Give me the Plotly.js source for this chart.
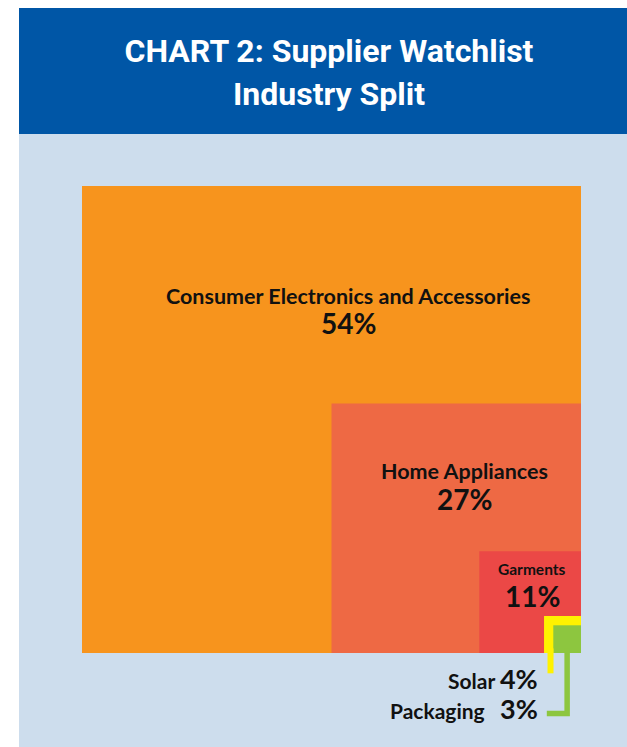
<!DOCTYPE html>
<html>
<head>
<meta charset="utf-8">
<script src="https://cdn.plot.ly/plotly-3.0.1.min.js"></script>
<style>html,body{margin:0;padding:0;background:#ffffff;}#chart{width:627px;height:747px;}</style>
</head>
<body>
<div id="chart"></div>
<script>
// ---- data ----
const categories = ['Consumer Electronics and Accessories', 'Home Appliances', 'Garments', 'Solar', 'Packaging'];
const shares = [54, 27, 11, 4, 3];
const shareLabels = ['54%', '27%', '11%', '4%', '3%'];

// ---- styles ----
const fillColors = ['#F7941D', '#EE6944', '#EB4846', '#FFF200', '#8DC63F'];
const headerBlue = '#0056A6';
const panelBlue = '#CDDDED';
const labelFont = 'Lato, "Noto Sans", sans-serif';

// ---- layout geometry (pixels) ----
const W = 627, H = 747;
const plotL = 82, plotR = 581, plotT = 186, plotB = 747; // plot area
const baseY = 653; // pixel row of value 0
const total = shares[0];
const k = (plotR - plotL) / total; // px per unit
const yMin = -(plotB - baseY) / k;
const yMax = (baseY - plotT) / k;
const right = total; // squares anchored to bottom-right corner

const traces = [];
// nested squares, side proportional to share
shares.forEach((s, i) => {
  const x0 = right - s, x1 = right;
  const top = i === 0 ? yMax : s;
  traces.push({
    type: 'scatter', mode: 'lines',
    x: [x0, x1, x1, x0, x0], y: [0, 0, top, top, 0],
    fill: 'toself', fillcolor: fillColors[i],
    line: {width: 0, color: fillColors[i]},
    hoverinfo: 'skip', showlegend: false, name: categories[i]
  });
});
// leader lines for the two smallest squares
const sSolar = shares[3], sPack = shares[4];
traces.push({
  type: 'scatter', mode: 'lines',
  x: [right - sPack - 0.3, right - sPack - 0.3], y: [0.5, -2.2],
  line: {width: 6, color: fillColors[3]}, hoverinfo: 'skip', showlegend: false
});
traces.push({
  type: 'scatter', mode: 'lines',
  x: [right - sPack / 2, right - sPack / 2, right - sSolar + 0.3], y: [0.5, -6.55, -6.55],
  line: {width: 5.5, color: fillColors[4]}, hoverinfo: 'skip', showlegend: false
});

// label positions (data units), offsets from square centres
const labelDX = [1.8, 0.85, 0.25];
const labelDY = [38.6, 19.7, 9.1];
const valueDY = [35.7, 16.7, 6.2];
const labelSize = [21.5, 21.5, 15.5];
const valueSize = [28, 28, 28];

const annotations = [];
for (let i = 0; i < 3; i++) {
  const cx = right - shares[i] / 2 + labelDX[i];
  annotations.push({xref: 'x', yref: 'y', x: cx, y: labelDY[i], text: '<b>' + categories[i] + '</b>',
    showarrow: false, xanchor: 'center', yanchor: 'middle', font: {family: labelFont, size: labelSize[i], color: '#111'}});
  annotations.push({xref: 'x', yref: 'y', x: cx, y: valueDY[i], text: '<b>' + shareLabels[i] + '</b>',
    showarrow: false, xanchor: 'center', yanchor: 'middle', font: {family: labelFont, size: valueSize[i], color: '#111'}});
}
const sideX = (540 - plotL) / k;
annotations.push({xref: 'x', yref: 'y', x: sideX, y: -2.75, xanchor: 'right', yanchor: 'middle', showarrow: false,
  text: '<b>' + categories[3] + ' <span style="font-size:27px">' + shareLabels[3] + '</span></b>',
  font: {family: labelFont, size: 21, color: '#111'}});
annotations.push({xref: 'x', yref: 'y', x: sideX, y: -6.0, xanchor: 'right', yanchor: 'middle', showarrow: false,
  text: '<b>' + categories[4] + '&nbsp;&nbsp; <span style="font-size:27px">' + shareLabels[4] + '</span></b>',
  font: {family: labelFont, size: 21, color: '#111'}});

// title second line
const px2paperX = px => (px - plotL) / (plotR - plotL);
const px2paperY = py => (plotB - py) / (plotB - plotT);
annotations.push({xref: 'paper', yref: 'paper', x: px2paperX(329), y: px2paperY(94), xanchor: 'center', yanchor: 'middle',
  showarrow: false, text: '<b>Industry Split</b>', font: {family: 'Roboto', size: 32, color: '#ffffff'}});

const shapes = [
  {type: 'rect', xref: 'paper', yref: 'paper', layer: 'below', x0: px2paperX(19), x1: px2paperX(W), y0: px2paperY(H), y1: px2paperY(134),
    fillcolor: panelBlue, line: {width: 0}},
  {type: 'rect', xref: 'paper', yref: 'paper', layer: 'below', x0: px2paperX(19), x1: px2paperX(W), y0: px2paperY(134), y1: px2paperY(8),
    fillcolor: headerBlue, line: {width: 0}}
];

const layout = {
  width: W, height: H,
  paper_bgcolor: '#ffffff', plot_bgcolor: 'rgba(0,0,0,0)',
  margin: {l: plotL, r: W - plotR, t: plotT, b: H - plotB, pad: 0, autoexpand: false},
  title: {text: '<b>CHART 2: Supplier Watchlist</b>', xref: 'container', yref: 'container',
    x: 329 / W, y: 1 - 51 / H, xanchor: 'center', yanchor: 'middle',
    font: {family: 'Roboto', size: 32, color: '#ffffff'}},
  xaxis: {range: [0, total], visible: false, fixedrange: true},
  yaxis: {range: [yMin, yMax], visible: false, fixedrange: true},
  showlegend: false,
  shapes: shapes,
  annotations: annotations
};

Plotly.newPlot('chart', traces, layout, {displayModeBar: false, staticPlot: true});
</script>
</body>
</html>
